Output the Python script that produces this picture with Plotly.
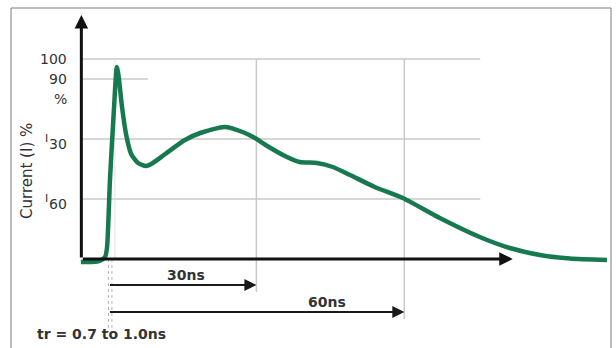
import plotly.graph_objects as go

# Surge current waveform: time in ns, current in % of peak
time_ns = [-5.6, -3.4, -1.7, -0.7, -0.3, 0.3, 1.1, 1.7, 2.1, 2.7, 3.6, 4.6, 6.0, 7.6,
           9.0, 11.5, 15.5, 18.6, 23.6, 27.2, 29.7, 32.2, 36.2, 38.8, 42.3, 45.5,
           49.0, 54.0, 59.7, 67.2, 75.3, 81.4, 87.5, 93.6, 101.1]
current_pct = [-1.5, -1.5, -0.8, 1.0, 5.5, 39.5, 74.5, 96.0, 90.5, 77.0, 62.0, 52.5,
               48.0, 46.5, 48.0, 52.5, 59.5, 63.0, 66.0, 63.5, 60.5, 56.5, 51.0, 48.5,
               48.0, 46.0, 42.0, 36.0, 30.5, 20.5, 11.0, 5.5, 2.0, 0.25, -0.5]

# Reference levels and their labels
level_values = [100, 90, 80, 60, 30]
level_labels = ["100", "90", "%", "I30", "I60"]
grid_levels = [100, 60, 30]
short_level = 90

# Timing markers
marker_times = [30, 60]
marker_labels = ["30ns", "60ns"]
rise_times = [0, 0.7]
rise_label = "tr = 0.7 to 1.0ns"

GREEN = "#17794f"
GRID = "#c9c9c9"
TXT = "#333333"
FONT = "DejaVu Sans"

X0, X1 = -22.0, 102.94
Y0, Y1 = -44.5, 129.5
axis_t = -5.5
grid_end = 75.4
label_t = -8.0

fig = go.Figure()

fig.add_trace(go.Scatter(
    x=time_ns, y=current_pct, mode="lines",
    line=dict(color=GREEN, width=4.5, shape="spline", smoothing=0.6),
    hoverinfo="skip", showlegend=False))

shapes = []
# horizontal grid lines
for lv in grid_levels:
    shapes.append(dict(type="line", xref="x", yref="y", x0=axis_t, x1=grid_end,
                       y0=lv, y1=lv, line=dict(color=GRID, width=1.5), layer="below"))
shapes.append(dict(type="line", xref="x", yref="y", x0=axis_t, x1=8,
                   y0=short_level, y1=short_level, line=dict(color=GRID, width=1.5),
                   layer="below"))
# vertical marker lines
marker_y = [-13, -26.5]
for t, my in zip(marker_times, marker_y):
    shapes.append(dict(type="line", xref="x", yref="y", x0=t, x1=t,
                       y0=100, y1=my - 3.5, line=dict(color=GRID, width=1.5),
                       layer="below"))
# rise-time dotted lines
for t in rise_times:
    shapes.append(dict(type="line", xref="x", yref="y", x0=t, x1=t,
                       y0=0, y1=-36.5, line=dict(color="#b5b5b5", width=1, dash="dot"),
                       layer="below"))
# faint vertical at start of rise
shapes.append(dict(type="line", xref="x", yref="y", x0=1.3, x1=1.3, y0=100, y1=0,
                   line=dict(color="#e2e2e2", width=1), layer="below"))
# outer frame
shapes.append(dict(type="rect", xref="paper", yref="paper",
                   x0=11 / 616, x1=611 / 616, y0=-0.01, y1=1 - 8 / 348,
                   line=dict(color="#7a7a7a", width=1), layer="below"))

annotations = []
# axes with arrowheads
annotations.append(dict(x=axis_t, y=122, ax=axis_t, ay=0, xref="x", yref="y",
                        axref="x", ayref="y", showarrow=True, arrowhead=2,
                        arrowsize=0.9, arrowwidth=3, arrowcolor="#111", text="",
                        standoff=0))
annotations.append(dict(x=82, y=0, ax=axis_t, ay=0, xref="x", yref="y",
                        axref="x", ayref="y", showarrow=True, arrowhead=2,
                        arrowsize=0.9, arrowwidth=3, arrowcolor="#111", text="",
                        standoff=0))
# timing arrows
for t, my in zip(marker_times, marker_y):
    annotations.append(dict(x=t, y=my, ax=0, ay=my, xref="x", yref="y",
                            axref="x", ayref="y", showarrow=True, arrowhead=2,
                            arrowsize=1.2, arrowwidth=2, arrowcolor="#1a1a1a",
                            text="", standoff=0))
label_pos = [(15.7, -8), (44.3, -21.5)]
for (lx, ly), txt in zip(label_pos, marker_labels):
    annotations.append(dict(x=lx, y=ly, xref="x", yref="y", text=txt, showarrow=False,
                            font=dict(family=FONT, size=14, color=TXT, weight="bold"),
                            xanchor="center", yanchor="middle"))
# level labels; current labels carry a raised "I" before the level
for lv, txt in zip(level_values, level_labels):
    if txt.startswith("I"):
        num = txt[1:]
        annotations.append(dict(x=label_t, y=lv - 2.5, xref="x", yref="y", text=num,
                                showarrow=False,
                                font=dict(family=FONT, size=14, color=TXT),
                                xanchor="right", yanchor="middle"))
        annotations.append(dict(x=label_t - 3.8, y=lv + 0.5, xref="x", yref="y",
                                text="I", showarrow=False,
                                font=dict(family=FONT, size=11, color=TXT),
                                xanchor="right", yanchor="middle"))
    else:
        annotations.append(dict(x=label_t, y=lv, xref="x", yref="y", text=txt,
                                showarrow=False,
                                font=dict(family=FONT, size=14, color=TXT),
                                xanchor="right", yanchor="middle"))
# y-axis title
annotations.append(dict(x=27 / 616, y=1 - 171 / 348, xref="paper", yref="paper",
                        text="Current (I) %", textangle=-90, showarrow=False,
                        font=dict(family=FONT, size=15, color=TXT),
                        xanchor="center", yanchor="middle"))
# rise time note
annotations.append(dict(x=35 / 616, y=1 - 334 / 348, xref="paper", yref="paper",
                        text=rise_label, showarrow=False,
                        font=dict(family=FONT, size=14, color=TXT, weight="bold"),
                        xanchor="left", yanchor="middle"))

fig.update_layout(
    width=616, height=348, margin=dict(l=0, r=0, t=0, b=0),
    paper_bgcolor="white", plot_bgcolor="white",
    xaxis=dict(range=[X0, X1], visible=False, fixedrange=True),
    yaxis=dict(range=[Y0, Y1], visible=False, fixedrange=True),
    shapes=shapes, annotations=annotations, showlegend=False,
)

fig.write_html("out.html")
